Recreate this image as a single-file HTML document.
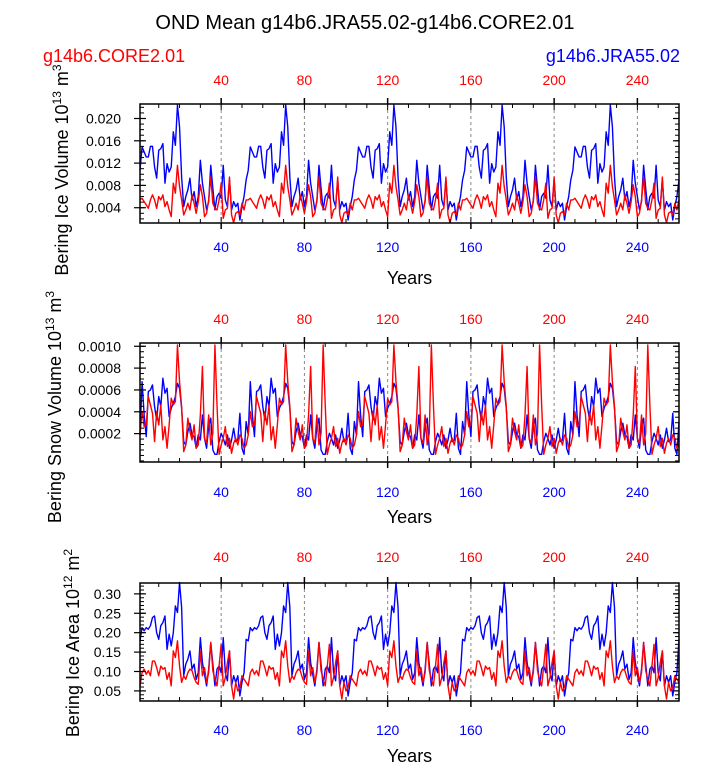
<!DOCTYPE html>
<html><head><meta charset="utf-8"><style>
html,body{margin:0;padding:0;background:#fff;}
svg{display:block;font-family:"Liberation Sans",sans-serif;}
</style></head><body>
<svg id="chart" width="723" height="763" viewBox="0 0 723 763" xmlns="http://www.w3.org/2000/svg">
<text x="365" y="29" font-size="20" text-anchor="middle">OND Mean g14b6.JRA55.02-g14b6.CORE2.01</text>
<text x="43" y="62" font-size="18" fill="#ff0000">g14b6.CORE2.01</text>
<text x="680" y="62" font-size="18" fill="#0000ff" text-anchor="end">g14b6.JRA55.02</text>
<g id="plots"></g>
</svg>
<script>
const years = [];
for (let i = 1; i <= 260; i++) years.push(i);
const xTicks = [40, 80, 120, 160, 200, 240];

const iceVolJRA = [0.0107,0.0149,0.0140,0.0131,0.0131,0.0150,0.0150,0.0113,0.0093,0.0143,0.0146,0.0155,0.0084,0.0119,0.0104,0.0113,0.0176,0.0152,0.0224,0.0185,0.0095,0.0042,0.0060,0.0072,0.0093,0.0054,0.0069,0.0042,0.0060,0.0125,0.0084,0.0060,0.0036,0.0051,0.0116,0.0075,0.0036,0.0060,0.0066,0.0057,0.0116,0.0054,0.0042,0.0090,0.0036,0.0051,0.0042,0.0048,0.0018,0.0042,0.0060,0.0090,
0.0107,0.0149,0.0140,0.0131,0.0131,0.0150,0.0150,0.0113,0.0093,0.0143,0.0146,0.0155,0.0084,0.0119,0.0104,0.0113,0.0176,0.0152,0.0224,0.0185,0.0095,0.0042,0.0060,0.0072,0.0093,0.0054,0.0069,0.0042,0.0060,0.0125,0.0084,0.0060,0.0036,0.0051,0.0116,0.0075,0.0036,0.0060,0.0066,0.0057,0.0116,0.0054,0.0042,0.0090,0.0036,0.0051,0.0042,0.0048,0.0018,0.0042,0.0060,0.0090,
0.0107,0.0149,0.0140,0.0131,0.0131,0.0150,0.0150,0.0113,0.0093,0.0143,0.0146,0.0155,0.0084,0.0119,0.0104,0.0113,0.0176,0.0152,0.0224,0.0185,0.0095,0.0042,0.0060,0.0072,0.0093,0.0054,0.0069,0.0042,0.0060,0.0125,0.0084,0.0060,0.0036,0.0051,0.0116,0.0075,0.0036,0.0060,0.0066,0.0057,0.0116,0.0054,0.0042,0.0090,0.0036,0.0051,0.0042,0.0048,0.0018,0.0042,0.0060,0.0090,
0.0107,0.0149,0.0140,0.0131,0.0131,0.0150,0.0150,0.0113,0.0093,0.0143,0.0146,0.0155,0.0084,0.0119,0.0104,0.0113,0.0176,0.0152,0.0224,0.0185,0.0095,0.0042,0.0060,0.0072,0.0093,0.0054,0.0069,0.0042,0.0060,0.0125,0.0084,0.0060,0.0036,0.0051,0.0116,0.0075,0.0036,0.0060,0.0066,0.0057,0.0116,0.0054,0.0042,0.0090,0.0036,0.0051,0.0042,0.0048,0.0018,0.0042,0.0060,0.0090,
0.0107,0.0149,0.0140,0.0131,0.0131,0.0150,0.0150,0.0113,0.0093,0.0143,0.0146,0.0155,0.0084,0.0119,0.0104,0.0113,0.0176,0.0152,0.0224,0.0185,0.0095,0.0042,0.0060,0.0072,0.0093,0.0054,0.0069,0.0042,0.0060,0.0125,0.0084,0.0060,0.0036,0.0051,0.0116,0.0075,0.0036,0.0060,0.0066,0.0057,0.0116,0.0054,0.0042,0.0090,0.0036,0.0051,0.0042,0.0048,0.0018,0.0042,0.0060,0.0090];

const iceVolCORE = [0.0054,0.0057,0.0051,0.0045,0.0039,0.0054,0.0063,0.0054,0.0039,0.0060,0.0054,0.0063,0.0042,0.0051,0.0036,0.0024,0.0084,0.0066,0.0116,0.0078,0.0054,0.0027,0.0036,0.0048,0.0036,0.0063,0.0048,0.0030,0.0051,0.0081,0.0060,0.0024,0.0030,0.0054,0.0095,0.0048,0.0039,0.0036,0.0054,0.0084,0.0021,0.0036,0.0039,0.0095,0.0027,0.0013,0.0030,0.0033,0.0027,0.0048,0.0036,0.0054,
0.0054,0.0057,0.0051,0.0045,0.0039,0.0054,0.0063,0.0054,0.0039,0.0060,0.0054,0.0063,0.0042,0.0051,0.0036,0.0024,0.0084,0.0066,0.0116,0.0078,0.0054,0.0027,0.0036,0.0048,0.0036,0.0063,0.0048,0.0030,0.0051,0.0081,0.0060,0.0024,0.0030,0.0054,0.0095,0.0048,0.0039,0.0036,0.0054,0.0084,0.0021,0.0036,0.0039,0.0095,0.0027,0.0013,0.0030,0.0033,0.0027,0.0048,0.0036,0.0054,
0.0054,0.0057,0.0051,0.0045,0.0039,0.0054,0.0063,0.0054,0.0039,0.0060,0.0054,0.0063,0.0042,0.0051,0.0036,0.0024,0.0084,0.0066,0.0116,0.0078,0.0054,0.0027,0.0036,0.0048,0.0036,0.0063,0.0048,0.0030,0.0051,0.0081,0.0060,0.0024,0.0030,0.0054,0.0095,0.0048,0.0039,0.0036,0.0054,0.0084,0.0021,0.0036,0.0039,0.0095,0.0027,0.0013,0.0030,0.0033,0.0027,0.0048,0.0036,0.0054,
0.0054,0.0057,0.0051,0.0045,0.0039,0.0054,0.0063,0.0054,0.0039,0.0060,0.0054,0.0063,0.0042,0.0051,0.0036,0.0024,0.0084,0.0066,0.0116,0.0078,0.0054,0.0027,0.0036,0.0048,0.0036,0.0063,0.0048,0.0030,0.0051,0.0081,0.0060,0.0024,0.0030,0.0054,0.0095,0.0048,0.0039,0.0036,0.0054,0.0084,0.0021,0.0036,0.0039,0.0095,0.0027,0.0013,0.0030,0.0033,0.0027,0.0048,0.0036,0.0054,
0.0054,0.0057,0.0051,0.0045,0.0039,0.0054,0.0063,0.0054,0.0039,0.0060,0.0054,0.0063,0.0042,0.0051,0.0036,0.0024,0.0084,0.0066,0.0116,0.0078,0.0054,0.0027,0.0036,0.0048,0.0036,0.0063,0.0048,0.0030,0.0051,0.0081,0.0060,0.0024,0.0030,0.0054,0.0095,0.0048,0.0039,0.0036,0.0054,0.0084,0.0021,0.0036,0.0039,0.0095,0.0027,0.0013,0.0030,0.0033,0.0027,0.0048,0.0036,0.0054];

const snowVolJRA = [1.88e-4,6.76e-4,3.71e-4,1.73e-4,5.85e-4,6.00e-4,6.46e-4,4.47e-4,3.25e-4,5.39e-4,4.47e-4,7.07e-4,5.70e-4,6.15e-4,3.56e-4,4.32e-4,4.78e-4,5.39e-4,6.61e-4,6.15e-4,4.32e-4,1.27e-4,0.96e-4,2.18e-4,2.95e-4,1.88e-4,1.73e-4,0.66e-4,1.88e-4,1.42e-4,3.71e-4,1.57e-4,0.66e-4,2.64e-4,3.41e-4,0.51e-4,0.10e-4,0.10e-4,1.27e-4,2.03e-4,1.57e-4,0.96e-4,1.88e-4,0.66e-4,1.42e-4,2.49e-4,1.27e-4,1.42e-4,3.86e-4,0.66e-4,0.10e-4,3.10e-4,
1.88e-4,6.76e-4,3.71e-4,1.73e-4,5.85e-4,6.00e-4,6.46e-4,4.47e-4,3.25e-4,5.39e-4,4.47e-4,7.07e-4,5.70e-4,6.15e-4,3.56e-4,4.32e-4,4.78e-4,5.39e-4,6.61e-4,6.15e-4,4.32e-4,1.27e-4,0.96e-4,2.18e-4,2.95e-4,1.88e-4,1.73e-4,0.66e-4,1.88e-4,1.42e-4,3.71e-4,1.57e-4,0.66e-4,2.64e-4,3.41e-4,0.51e-4,0.10e-4,0.10e-4,1.27e-4,2.03e-4,1.57e-4,0.96e-4,1.88e-4,0.66e-4,1.42e-4,2.49e-4,1.27e-4,1.42e-4,3.86e-4,0.66e-4,0.10e-4,3.10e-4,
1.88e-4,6.76e-4,3.71e-4,1.73e-4,5.85e-4,6.00e-4,6.46e-4,4.47e-4,3.25e-4,5.39e-4,4.47e-4,7.07e-4,5.70e-4,6.15e-4,3.56e-4,4.32e-4,4.78e-4,5.39e-4,6.61e-4,6.15e-4,4.32e-4,1.27e-4,0.96e-4,2.18e-4,2.95e-4,1.88e-4,1.73e-4,0.66e-4,1.88e-4,1.42e-4,3.71e-4,1.57e-4,0.66e-4,2.64e-4,3.41e-4,0.51e-4,0.10e-4,0.10e-4,1.27e-4,2.03e-4,1.57e-4,0.96e-4,1.88e-4,0.66e-4,1.42e-4,2.49e-4,1.27e-4,1.42e-4,3.86e-4,0.66e-4,0.10e-4,3.10e-4,
1.88e-4,6.76e-4,3.71e-4,1.73e-4,5.85e-4,6.00e-4,6.46e-4,4.47e-4,3.25e-4,5.39e-4,4.47e-4,7.07e-4,5.70e-4,6.15e-4,3.56e-4,4.32e-4,4.78e-4,5.39e-4,6.61e-4,6.15e-4,4.32e-4,1.27e-4,0.96e-4,2.18e-4,2.95e-4,1.88e-4,1.73e-4,0.66e-4,1.88e-4,1.42e-4,3.71e-4,1.57e-4,0.66e-4,2.64e-4,3.41e-4,0.51e-4,0.10e-4,0.10e-4,1.27e-4,2.03e-4,1.57e-4,0.96e-4,1.88e-4,0.66e-4,1.42e-4,2.49e-4,1.27e-4,1.42e-4,3.86e-4,0.66e-4,0.10e-4,3.10e-4,
1.88e-4,6.76e-4,3.71e-4,1.73e-4,5.85e-4,6.00e-4,6.46e-4,4.47e-4,3.25e-4,5.39e-4,4.47e-4,7.07e-4,5.70e-4,6.15e-4,3.56e-4,4.32e-4,4.78e-4,5.39e-4,6.61e-4,6.15e-4,4.32e-4,1.27e-4,0.96e-4,2.18e-4,2.95e-4,1.88e-4,1.73e-4,0.66e-4,1.88e-4,1.42e-4,3.71e-4,1.57e-4,0.66e-4,2.64e-4,3.41e-4,0.51e-4,0.10e-4,0.10e-4,1.27e-4,2.03e-4,1.57e-4,0.96e-4,1.88e-4,0.66e-4,1.42e-4,2.49e-4,1.27e-4,1.42e-4,3.86e-4,0.66e-4,0.10e-4,3.10e-4];

const snowVolCORE = [1.88e-4,4.02e-4,2.64e-4,2.80e-4,5.39e-4,4.63e-4,3.86e-4,1.27e-4,4.02e-4,2.80e-4,4.63e-4,1.42e-4,2.64e-4,0.66e-4,2.80e-4,5.24e-4,4.63e-4,4.93e-4,10.12e-4,6.76e-4,4.47e-4,0.35e-4,0.96e-4,3.41e-4,2.18e-4,1.42e-4,2.80e-4,0.66e-4,0.96e-4,3.71e-4,8.14e-4,1.57e-4,1.12e-4,3.71e-4,0.96e-4,2.03e-4,10.12e-4,4.63e-4,0.10e-4,0.96e-4,1.57e-4,2.64e-4,0.81e-4,1.57e-4,0.20e-4,1.12e-4,1.57e-4,0.96e-4,1.88e-4,1.57e-4,0.66e-4,0.96e-4,
1.88e-4,4.02e-4,2.64e-4,2.80e-4,5.39e-4,4.63e-4,3.86e-4,1.27e-4,4.02e-4,2.80e-4,4.63e-4,1.42e-4,2.64e-4,0.66e-4,2.80e-4,5.24e-4,4.63e-4,4.93e-4,10.12e-4,6.76e-4,4.47e-4,0.35e-4,0.96e-4,3.41e-4,2.18e-4,1.42e-4,2.80e-4,0.66e-4,0.96e-4,3.71e-4,8.14e-4,1.57e-4,1.12e-4,3.71e-4,0.96e-4,2.03e-4,10.12e-4,4.63e-4,0.10e-4,0.96e-4,1.57e-4,2.64e-4,0.81e-4,1.57e-4,0.20e-4,1.12e-4,1.57e-4,0.96e-4,1.88e-4,1.57e-4,0.66e-4,0.96e-4,
1.88e-4,4.02e-4,2.64e-4,2.80e-4,5.39e-4,4.63e-4,3.86e-4,1.27e-4,4.02e-4,2.80e-4,4.63e-4,1.42e-4,2.64e-4,0.66e-4,2.80e-4,5.24e-4,4.63e-4,4.93e-4,10.12e-4,6.76e-4,4.47e-4,0.35e-4,0.96e-4,3.41e-4,2.18e-4,1.42e-4,2.80e-4,0.66e-4,0.96e-4,3.71e-4,8.14e-4,1.57e-4,1.12e-4,3.71e-4,0.96e-4,2.03e-4,10.12e-4,4.63e-4,0.10e-4,0.96e-4,1.57e-4,2.64e-4,0.81e-4,1.57e-4,0.20e-4,1.12e-4,1.57e-4,0.96e-4,1.88e-4,1.57e-4,0.66e-4,0.96e-4,
1.88e-4,4.02e-4,2.64e-4,2.80e-4,5.39e-4,4.63e-4,3.86e-4,1.27e-4,4.02e-4,2.80e-4,4.63e-4,1.42e-4,2.64e-4,0.66e-4,2.80e-4,5.24e-4,4.63e-4,4.93e-4,10.12e-4,6.76e-4,4.47e-4,0.35e-4,0.96e-4,3.41e-4,2.18e-4,1.42e-4,2.80e-4,0.66e-4,0.96e-4,3.71e-4,8.14e-4,1.57e-4,1.12e-4,3.71e-4,0.96e-4,2.03e-4,10.12e-4,4.63e-4,0.10e-4,0.96e-4,1.57e-4,2.64e-4,0.81e-4,1.57e-4,0.20e-4,1.12e-4,1.57e-4,0.96e-4,1.88e-4,1.57e-4,0.66e-4,0.96e-4,
1.88e-4,4.02e-4,2.64e-4,2.80e-4,5.39e-4,4.63e-4,3.86e-4,1.27e-4,4.02e-4,2.80e-4,4.63e-4,1.42e-4,2.64e-4,0.66e-4,2.80e-4,5.24e-4,4.63e-4,4.93e-4,10.12e-4,6.76e-4,4.47e-4,0.35e-4,0.96e-4,3.41e-4,2.18e-4,1.42e-4,2.80e-4,0.66e-4,0.96e-4,3.71e-4,8.14e-4,1.57e-4,1.12e-4,3.71e-4,0.96e-4,2.03e-4,10.12e-4,4.63e-4,0.10e-4,0.96e-4,1.57e-4,2.64e-4,0.81e-4,1.57e-4,0.20e-4,1.12e-4,1.57e-4,0.96e-4,1.88e-4,1.57e-4,0.66e-4,0.96e-4];

const iceAreaJRA = [0.179,0.213,0.205,0.213,0.209,0.218,0.239,0.243,0.200,0.183,0.218,0.226,0.243,0.157,0.196,0.166,0.200,0.269,0.252,0.329,0.265,0.089,0.119,0.132,0.153,0.106,0.119,0.080,0.097,0.187,0.123,0.093,0.063,0.106,0.175,0.119,0.063,0.106,0.114,0.097,0.187,0.097,0.076,0.153,0.063,0.089,0.072,0.089,0.037,0.072,0.097,0.183,
0.179,0.213,0.205,0.213,0.209,0.218,0.239,0.243,0.200,0.183,0.218,0.226,0.243,0.157,0.196,0.166,0.200,0.269,0.252,0.329,0.265,0.089,0.119,0.132,0.153,0.106,0.119,0.080,0.097,0.187,0.123,0.093,0.063,0.106,0.175,0.119,0.063,0.106,0.114,0.097,0.187,0.097,0.076,0.153,0.063,0.089,0.072,0.089,0.037,0.072,0.097,0.183,
0.179,0.213,0.205,0.213,0.209,0.218,0.239,0.243,0.200,0.183,0.218,0.226,0.243,0.157,0.196,0.166,0.200,0.269,0.252,0.329,0.265,0.089,0.119,0.132,0.153,0.106,0.119,0.080,0.097,0.187,0.123,0.093,0.063,0.106,0.175,0.119,0.063,0.106,0.114,0.097,0.187,0.097,0.076,0.153,0.063,0.089,0.072,0.089,0.037,0.072,0.097,0.183,
0.179,0.213,0.205,0.213,0.209,0.218,0.239,0.243,0.200,0.183,0.218,0.226,0.243,0.157,0.196,0.166,0.200,0.269,0.252,0.329,0.265,0.089,0.119,0.132,0.153,0.106,0.119,0.080,0.097,0.187,0.123,0.093,0.063,0.106,0.175,0.119,0.063,0.106,0.114,0.097,0.187,0.097,0.076,0.153,0.063,0.089,0.072,0.089,0.037,0.072,0.097,0.183,
0.179,0.213,0.205,0.213,0.209,0.218,0.239,0.243,0.200,0.183,0.218,0.226,0.243,0.157,0.196,0.166,0.200,0.269,0.252,0.329,0.265,0.089,0.119,0.132,0.153,0.106,0.119,0.080,0.097,0.187,0.123,0.093,0.063,0.106,0.175,0.119,0.063,0.106,0.114,0.097,0.187,0.097,0.076,0.153,0.063,0.089,0.072,0.089,0.037,0.072,0.097,0.183];

const iceAreaCORE = [0.063,0.097,0.106,0.093,0.102,0.089,0.127,0.127,0.110,0.089,0.114,0.106,0.110,0.080,0.097,0.063,0.153,0.136,0.179,0.114,0.072,0.089,0.080,0.097,0.106,0.102,0.084,0.072,0.067,0.153,0.089,0.110,0.072,0.097,0.175,0.102,0.080,0.063,0.114,0.170,0.063,0.084,0.123,0.153,0.063,0.029,0.072,0.050,0.059,0.089,0.080,0.072,
0.063,0.097,0.106,0.093,0.102,0.089,0.127,0.127,0.110,0.089,0.114,0.106,0.110,0.080,0.097,0.063,0.153,0.136,0.179,0.114,0.072,0.089,0.080,0.097,0.106,0.102,0.084,0.072,0.067,0.153,0.089,0.110,0.072,0.097,0.175,0.102,0.080,0.063,0.114,0.170,0.063,0.084,0.123,0.153,0.063,0.029,0.072,0.050,0.059,0.089,0.080,0.072,
0.063,0.097,0.106,0.093,0.102,0.089,0.127,0.127,0.110,0.089,0.114,0.106,0.110,0.080,0.097,0.063,0.153,0.136,0.179,0.114,0.072,0.089,0.080,0.097,0.106,0.102,0.084,0.072,0.067,0.153,0.089,0.110,0.072,0.097,0.175,0.102,0.080,0.063,0.114,0.170,0.063,0.084,0.123,0.153,0.063,0.029,0.072,0.050,0.059,0.089,0.080,0.072,
0.063,0.097,0.106,0.093,0.102,0.089,0.127,0.127,0.110,0.089,0.114,0.106,0.110,0.080,0.097,0.063,0.153,0.136,0.179,0.114,0.072,0.089,0.080,0.097,0.106,0.102,0.084,0.072,0.067,0.153,0.089,0.110,0.072,0.097,0.175,0.102,0.080,0.063,0.114,0.170,0.063,0.084,0.123,0.153,0.063,0.029,0.072,0.050,0.059,0.089,0.080,0.072,
0.063,0.097,0.106,0.093,0.102,0.089,0.127,0.127,0.110,0.089,0.114,0.106,0.110,0.080,0.097,0.063,0.153,0.136,0.179,0.114,0.072,0.089,0.080,0.097,0.106,0.102,0.084,0.072,0.067,0.153,0.089,0.110,0.072,0.097,0.175,0.102,0.080,0.063,0.114,0.170,0.063,0.084,0.123,0.153,0.063,0.029,0.072,0.050,0.059,0.089,0.080,0.072];

const iceVolTicks = [0.004, 0.008, 0.012, 0.016, 0.020];
const iceVolTickLabels = ["0.004", "0.008", "0.012", "0.016", "0.020"];
const snowVolTicks = [0.0002, 0.0004, 0.0006, 0.0008, 0.0010];
const snowVolTickLabels = ["0.0002", "0.0004", "0.0006", "0.0008", "0.0010"];
const iceAreaTicks = [0.05, 0.10, 0.15, 0.20, 0.25, 0.30];
const iceAreaTickLabels = ["0.05", "0.10", "0.15", "0.20", "0.25", "0.30"];

const NS = "http://www.w3.org/2000/svg";
const root = document.getElementById('plots');
const XL = 140, XR = 679, XMIN = 1, XMAX = 260;
function xScale(v) { return XL + (v - XMIN) / (XMAX - XMIN) * (XR - XL); }
function mk(tag, attrs, parent) {
  const e = document.createElementNS(NS, tag);
  for (const k in attrs) e.setAttribute(k, attrs[k]);
  parent.appendChild(e);
  return e;
}

const panels = [
  {key: 'ice-volume', top: 104, bot: 223, ymin: 0.00126, ymax: 0.0226, minor: 0.001, ticks: iceVolTicks, labels: iceVolTickLabels, jra: iceVolJRA, core: iceVolCORE, title: ['Bering Ice Volume 10', '13', ' m', '3'], tx: 68, ty: 170, topLab: 85, botLab: 252, yrs: 284},
  {key: 'snow-volume', top: 343, bot: 462, ymin: -0.00006, ymax: 0.00103, minor: 0.00005, ticks: snowVolTicks, labels: snowVolTickLabels, jra: snowVolJRA, core: snowVolCORE, title: ['Bering Snow Volume 10', '13', ' m', '3'], tx: 61, ty: 407, topLab: 324, botLab: 497, yrs: 523},
  {key: 'ice-area', top: 583, bot: 701, ymin: 0.024, ymax: 0.328, minor: 0.01, ticks: iceAreaTicks, labels: iceAreaTickLabels, jra: iceAreaJRA, core: iceAreaCORE, title: ['Bering Ice Area 10', '12', ' m', '2'], tx: 79, ty: 643, topLab: 562, botLab: 735, yrs: 762}
];

panels.forEach(p => {
  const g = mk('g', {}, root);
  
  
  const yS = v => p.bot - (v - p.ymin) / (p.ymax - p.ymin) * (p.bot - p.top);

  // grid lines
  xTicks.forEach(t => {
    const l = mk('line', {x1: xScale(t), x2: xScale(t), y1: p.top, y2: p.bot, stroke: '#888', 'stroke-width': 1, 'stroke-dasharray': '3,3'}, g);
    
    
  });

  // series
  const mkLine = (vals, color, name) => {
    let d = '';
    vals.forEach((v, i) => { d += (i ? 'L' : 'M') + xScale(years[i]).toFixed(2) + ',' + yS(v).toFixed(2); });
    const path = mk('path', {d: d, fill: 'none', stroke: color, 'stroke-width': 1.4, 'stroke-linejoin': 'round'}, g);
    
    
  };
  mkLine(p.jra, '#0000ff', p.key + '-jra55-line');
  mkLine(p.core, '#ff0000', p.key + '-core2-line');

  // frame
  const fr = mk('rect', {x: XL, y: p.top, width: XR - XL, height: p.bot - p.top, fill: 'none', stroke: '#000', 'stroke-width': 1.5}, g);
  
  

  // x minor ticks
  for (let t = 10; t <= 260; t += 10) {
    const x = xScale(t);
    const major = t % 40 === 0;
    mk('line', {x1: x, x2: x, y1: p.top, y2: p.top + (major ? 6 : 4), stroke: '#000', 'stroke-width': 1}, g);
    mk('line', {x1: x, x2: x, y1: p.bot, y2: p.bot - (major ? 6 : 4), stroke: '#000', 'stroke-width': 1}, g);
    if (major) {
      mk('line', {x1: x, x2: x, y1: p.top - 6, y2: p.top, stroke: '#000', 'stroke-width': 1.5}, g);
      mk('line', {x1: x, x2: x, y1: p.bot, y2: p.bot + 6, stroke: '#000', 'stroke-width': 1.5}, g);
    }
  }
  xTicks.forEach(t => {
    const a = mk('text', {x: xScale(t), y: p.topLab, 'font-size': 14, fill: '#ff0000', 'text-anchor': 'middle'}, g);
    a.textContent = String(t);
    
    
    const b = mk('text', {x: xScale(t), y: p.botLab, 'font-size': 14, fill: '#0000ff', 'text-anchor': 'middle'}, g);
    b.textContent = String(t);
    
    
  });
  const yr = mk('text', {x: (XL + XR) / 2, y: p.yrs, 'font-size': 18, 'text-anchor': 'middle'}, g);
  yr.textContent = 'Years';
  
  

  // y minor ticks
  const n0 = Math.ceil(p.ymin / p.minor), n1 = Math.floor(p.ymax / p.minor);
  for (let n = n0; n <= n1; n++) {
    const y = yS(n * p.minor);
    mk('line', {x1: XL, x2: XL + 4, y1: y, y2: y, stroke: '#000', 'stroke-width': 1}, g);
    mk('line', {x1: XR, x2: XR - 4, y1: y, y2: y, stroke: '#000', 'stroke-width': 1}, g);
  }
  p.ticks.forEach((t, i) => {
    const y = yS(t);
    mk('line', {x1: XL - 6, x2: XL + 6, y1: y, y2: y, stroke: '#000', 'stroke-width': 1.2}, g);
    mk('line', {x1: XR, x2: XR - 6, y1: y, y2: y, stroke: '#000', 'stroke-width': 1.2}, g);
    const lb = mk('text', {x: 121, y: y + 5, 'font-size': 14, 'text-anchor': 'end'}, g);
    lb.textContent = p.labels[i];
    
    
  });

  // y title
  const tt = mk('text', {x: 0, y: 0, 'font-size': 18, 'text-anchor': 'middle', transform: 'translate(' + p.tx + ',' + p.ty + ') rotate(-90)'}, g);
  
  
  const s1 = mk('tspan', {}, tt); s1.textContent = p.title[0];
  const s2 = mk('tspan', {dy: -7, 'font-size': 12}, tt); s2.textContent = p.title[1];
  const s3 = mk('tspan', {dy: 7}, tt); s3.textContent = p.title[2];
  const s4 = mk('tspan', {dy: -7, 'font-size': 12}, tt); s4.textContent = p.title[3];
});
</script>
</body></html>
